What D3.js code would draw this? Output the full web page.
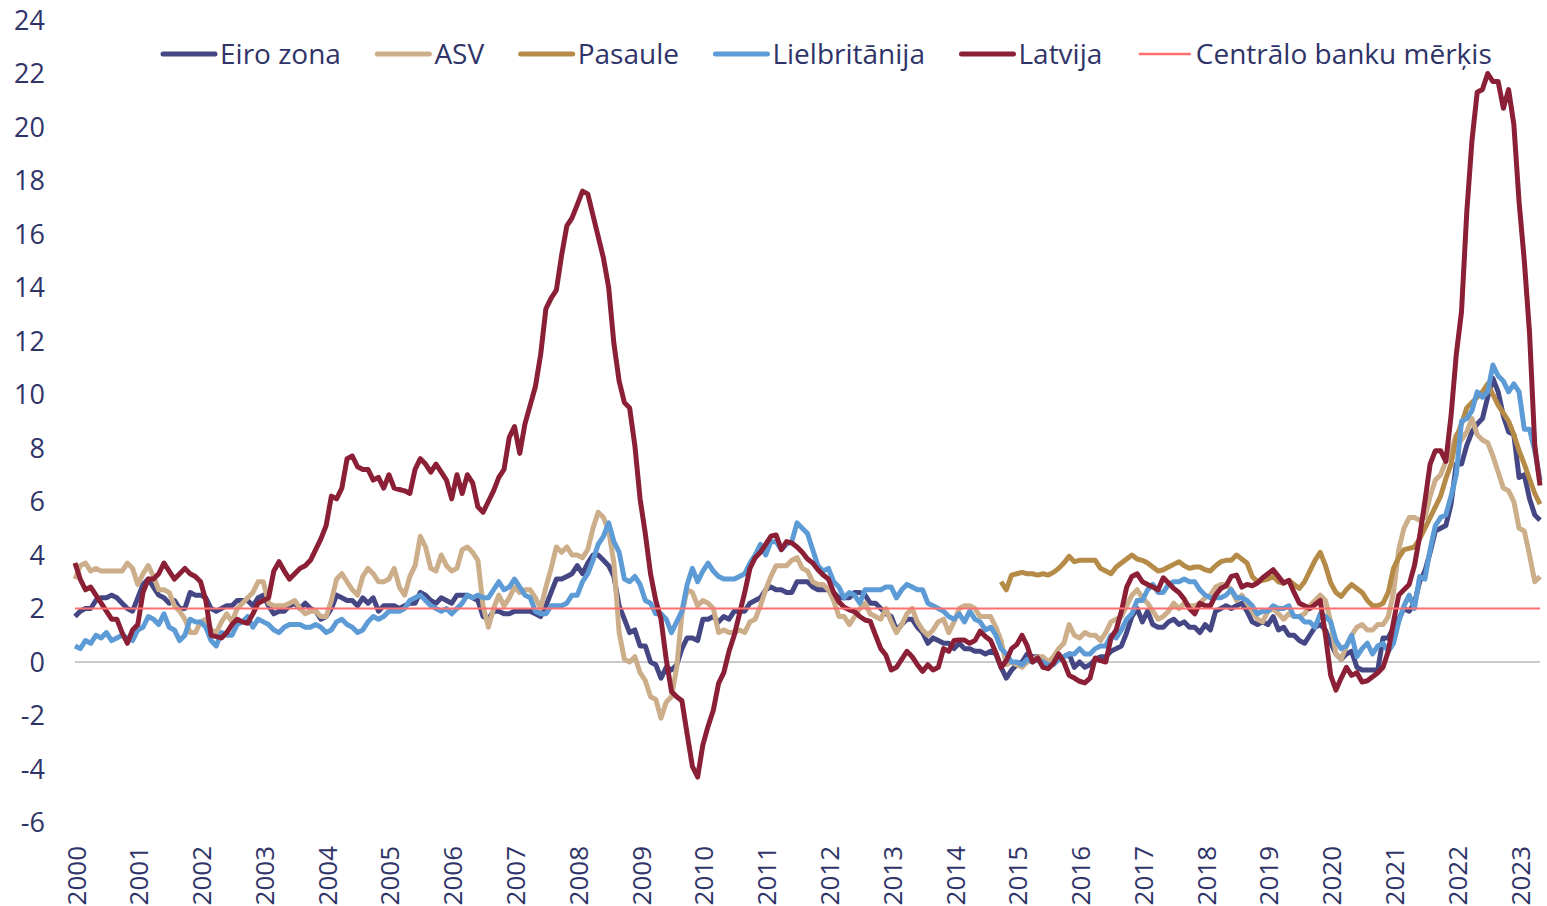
<!DOCTYPE html>
<html lang="lv">
<head>
<meta charset="utf-8">
<script src="https://cdn.jsdelivr.net/npm/d3@7"></script>
<style>
  html, body { margin: 0; padding: 0; background: #fff; }
  svg { display: block; font-family: "Open Sans", sans-serif; }
  .ylab, .xlab, .legend text { fill: #2f3468; }
  .ylab { font-size: 27px; }
  .xlab { font-size: 26px; }
  .legend text { font-size: 28px; }
</style>
</head>
<body>
<div id="chart"></div>
<script>
"use strict"

// monthly observations, March 2000 .. July 2023 (annual inflation, %)
const months = d3.timeMonth.range(new Date(2000, 2, 1), new Date(2023, 7, 1)).map(d3.timeFormat("%Y-%m"));
const yearLabels = d3.range(2000, 2024);
const yTicks = d3.range(-6, 25, 2);
const targetValue = 2;

const euroArea = [
  1.7, 1.9, 2.0, 2.0, 2.3, 2.4, 2.4, 2.5, 2.4, 2.2,
  2.0, 1.9, 2.4, 2.9, 3.1, 2.8, 2.5, 2.4, 2.2, 2.3, 2.0, 2.0,
  2.6, 2.5, 2.5, 2.4, 2.0, 1.9, 2.0, 2.1, 2.1, 2.3, 2.3, 2.3,
  2.1, 2.4, 2.5, 2.1, 1.8, 1.9, 1.9, 2.1, 2.2, 2.0, 2.2, 2.0,
  1.9, 1.6, 1.7, 2.0, 2.5, 2.4, 2.3, 2.3, 2.1, 2.4, 2.2, 2.4,
  1.9, 2.1, 2.1, 2.1, 2.0, 2.1, 2.2, 2.2, 2.6, 2.5, 2.3, 2.2,
  2.4, 2.3, 2.2, 2.5, 2.5, 2.5, 2.4, 2.3, 1.7, 1.6, 1.9, 1.9,
  1.8, 1.8, 1.9, 1.9, 1.9, 1.9, 1.8, 1.7, 2.1, 2.6, 3.1, 3.1,
  3.2, 3.3, 3.6, 3.3, 3.7, 4.0, 4.0, 3.8, 3.6, 3.2, 2.1, 1.6,
  1.1, 1.2, 0.6, 0.6, 0.0, -0.1, -0.6, -0.2, -0.3, -0.1, 0.5, 0.9,
  0.9, 0.8, 1.6, 1.6, 1.7, 1.5, 1.7, 1.6, 1.9, 1.9, 1.9, 2.2,
  2.3, 2.4, 2.7, 2.8, 2.7, 2.7, 2.6, 2.6, 3.0, 3.0, 3.0, 2.8,
  2.7, 2.7, 2.7, 2.6, 2.4, 2.4, 2.4, 2.6, 2.6, 2.5, 2.2, 2.2,
  2.0, 1.8, 1.7, 1.2, 1.4, 1.6, 1.6, 1.3, 1.1, 0.7, 0.9, 0.8,
  0.7, 0.7, 0.5, 0.7, 0.5, 0.5, 0.4, 0.4, 0.3, 0.4, 0.3, -0.2,
  -0.6, -0.3, -0.1, 0.0, 0.3, 0.2, 0.2, 0.1, -0.1, 0.1, 0.1, 0.2,
  0.3, -0.2, 0.0, -0.2, -0.1, 0.1, 0.2, 0.2, 0.4, 0.5, 0.6, 1.1,
  1.7, 2.0, 1.5, 1.9, 1.4, 1.3, 1.3, 1.5, 1.6, 1.4, 1.5, 1.3,
  1.3, 1.1, 1.4, 1.2, 1.9, 2.0, 2.1, 2.0, 2.1, 2.2, 1.9, 1.5,
  1.4, 1.5, 1.4, 1.7, 1.2, 1.3, 1.0, 1.0, 0.8, 0.7, 1.0, 1.3,
  1.4, 1.2, 0.7, 0.3, 0.1, 0.3, 0.4, -0.2, -0.3, -0.3, -0.3, -0.3,
  0.9, 0.9, 1.3, 1.6, 2.0, 1.9, 2.2, 3.0, 3.4, 4.1, 4.9, 5.0,
  5.1, 5.9, 7.4, 7.4, 8.1, 8.6, 8.9, 9.1, 9.9, 10.6, 10.1, 9.2,
  8.6, 8.5, 6.9, 7.0, 6.1, 5.5, 5.3
];

const usa = [
  3.1, 3.6, 3.7, 3.4, 3.5, 3.4, 3.4, 3.4, 3.4, 3.4,
  3.7, 3.5, 2.9, 3.3, 3.6, 3.2, 2.7, 2.7, 2.6, 2.1, 1.9, 1.6,
  1.1, 1.1, 1.5, 1.6, 1.2, 1.1, 1.5, 1.8, 1.5, 2.0, 2.2, 2.4,
  2.6, 3.0, 3.0, 2.2, 2.1, 2.1, 2.1, 2.2, 2.3, 2.0, 1.8, 1.9,
  1.9, 1.7, 1.7, 2.3, 3.1, 3.3, 3.0, 2.7, 2.5, 3.2, 3.5, 3.3,
  3.0, 3.0, 3.1, 3.5, 2.8, 2.5, 3.2, 3.6, 4.7, 4.3, 3.5, 3.4,
  4.0, 3.6, 3.4, 3.5, 4.2, 4.3, 4.1, 3.8, 2.1, 1.3, 2.0, 2.5,
  2.1, 2.4, 2.8, 2.6, 2.7, 2.7, 2.4, 2.0, 2.8, 3.5, 4.3, 4.1,
  4.3, 4.0, 4.0, 3.9, 4.2, 5.0, 5.6, 5.4, 4.9, 3.7, 1.1, 0.1,
  0.0, 0.2, -0.4, -0.7, -1.3, -1.4, -2.1, -1.5, -1.3, -0.2, 1.8, 2.7,
  2.6, 2.1, 2.3, 2.2, 2.0, 1.1, 1.2, 1.1, 1.1, 1.2, 1.1, 1.5,
  1.6, 2.1, 2.7, 3.2, 3.6, 3.6, 3.6, 3.8, 3.9, 3.5, 3.4, 3.0,
  2.9, 2.9, 2.7, 2.3, 1.7, 1.7, 1.4, 1.7, 2.0, 2.2, 1.8, 1.7,
  1.6, 2.0, 1.5, 1.1, 1.4, 1.8, 2.0, 1.5, 1.2, 1.0, 1.2, 1.5,
  1.6, 1.1, 1.5, 2.0, 2.1, 2.1, 2.0, 1.7, 1.7, 1.7, 1.3, 0.8,
  -0.1, 0.0, -0.1, -0.2, 0.0, 0.1, 0.2, 0.2, 0.0, 0.2, 0.5, 0.7,
  1.4, 1.0, 0.9, 1.1, 1.0, 1.0, 0.8, 1.1, 1.5, 1.6, 1.7, 2.1,
  2.5, 2.7, 2.4, 2.2, 1.9, 1.6, 1.7, 1.9, 2.2, 2.0, 2.2, 2.1,
  2.1, 2.2, 2.4, 2.5, 2.8, 2.9, 2.9, 2.7, 2.3, 2.5, 2.2, 1.9,
  1.6, 1.5, 1.9, 2.0, 1.8, 1.6, 1.8, 1.7, 1.7, 1.8, 2.1, 2.3,
  2.5, 2.3, 1.5, 0.3, 0.1, 0.6, 1.0, 1.3, 1.4, 1.2, 1.2, 1.4,
  1.4, 1.7, 2.6, 4.2, 5.0, 5.4, 5.4, 5.3, 5.4, 6.2, 6.8, 7.0,
  7.5, 7.9, 8.5, 8.3, 8.6, 9.1, 8.5, 8.3, 8.2, 7.7, 7.1, 6.5,
  6.4, 6.0, 5.0, 4.9, 4.0, 3.0, 3.2
];

// world series starts in December 2014
const worldStart = "2014-12";
const world = [
  3.0, 2.7, 3.25, 3.3, 3.35, 3.3, 3.3, 3.25, 3.3, 3.25,
  3.35, 3.5, 3.7, 3.95, 3.75, 3.8, 3.8, 3.8, 3.8, 3.5,
  3.4, 3.3, 3.55, 3.7, 3.85, 4.0, 3.85, 3.8, 3.7, 3.55,
  3.4, 3.45, 3.55, 3.65, 3.75, 3.6, 3.5, 3.55, 3.55, 3.45,
  3.4, 3.6, 3.75, 3.8, 3.8, 4.0, 3.85, 3.7, 3.2, 3.0,
  3.05, 3.1, 3.2, 3.0, 2.95, 3.05, 2.9, 2.75, 3.0, 3.4,
  3.8, 4.1, 3.6, 2.95, 2.6, 2.45, 2.7, 2.9, 2.75, 2.6,
  2.3, 2.1, 2.1, 2.2, 2.6, 3.5, 3.9, 4.2, 4.25, 4.3,
  4.6, 5.0, 5.4, 5.8, 6.2, 6.85, 7.4, 8.4, 8.9, 9.5,
  9.7, 9.9, 10.1, 10.4, 10.0, 9.6, 9.3, 9.0, 8.5, 7.9,
  7.4, 6.85, 6.3, 5.9
];

const uk = [
  0.6, 0.5, 0.8, 0.7, 1.0, 0.9, 1.1, 0.8, 0.9, 1.0,
  0.9, 0.8, 1.2, 1.3, 1.7, 1.6, 1.4, 1.8, 1.3, 1.2, 0.8, 1.0,
  1.6, 1.5, 1.5, 1.3, 0.8, 0.6, 1.1, 1.0, 1.0, 1.4, 1.5, 1.7,
  1.3, 1.6, 1.5, 1.4, 1.2, 1.1, 1.3, 1.4, 1.4, 1.4, 1.3, 1.3,
  1.4, 1.3, 1.1, 1.2, 1.5, 1.6, 1.4, 1.3, 1.1, 1.2, 1.5, 1.7,
  1.6, 1.7, 1.9, 1.9, 1.9, 2.0, 2.3, 2.4, 2.5, 2.3, 2.1, 2.0,
  1.9, 2.0, 1.8, 2.0, 2.2, 2.5, 2.4, 2.5, 2.4, 2.4, 2.7, 3.0,
  2.7, 2.8, 3.1, 2.8, 2.5, 2.4, 1.9, 1.8, 1.8, 2.1, 2.1, 2.1,
  2.2, 2.5, 2.5, 3.0, 3.3, 3.8, 4.4, 4.7, 5.2, 4.5, 4.1, 3.1,
  3.0, 3.2, 2.9, 2.3, 2.2, 1.8, 1.8, 1.6, 1.1, 1.5, 1.9, 2.9,
  3.5, 3.0, 3.4, 3.7, 3.4, 3.2, 3.1, 3.1, 3.1, 3.2, 3.3, 3.7,
  4.0, 4.4, 4.0, 4.5, 4.5, 4.2, 4.4, 4.5, 5.2, 5.0, 4.8, 4.2,
  3.6, 3.4, 3.5, 3.0, 2.8, 2.4, 2.6, 2.5, 2.2, 2.7, 2.7, 2.7,
  2.7, 2.8, 2.8, 2.4, 2.7, 2.9, 2.8, 2.7, 2.7, 2.2, 2.1, 2.0,
  1.9, 1.7, 1.6, 1.8, 1.5, 1.9, 1.6, 1.5, 1.2, 1.3, 1.0, 0.5,
  0.3, 0.0, 0.0, -0.1, 0.1, 0.0, 0.1, 0.0, -0.1, -0.1, 0.1, 0.2,
  0.3, 0.3, 0.5, 0.3, 0.3, 0.5, 0.6, 0.6, 1.0, 0.9, 1.2, 1.6,
  1.8, 2.3, 2.3, 2.7, 2.9, 2.6, 2.6, 2.9, 3.0, 3.0, 3.1, 3.0,
  3.0, 2.7, 2.5, 2.4, 2.4, 2.4, 2.5, 2.7, 2.4, 2.4, 2.3, 2.1,
  1.8, 1.9, 1.9, 2.1, 2.0, 2.0, 2.1, 1.7, 1.7, 1.5, 1.5, 1.3,
  1.8, 1.7, 1.5, 0.8, 0.5, 0.6, 1.0, 0.2, 0.5, 0.7, 0.3, 0.6,
  0.7, 0.4, 0.7, 1.5, 2.1, 2.5, 2.0, 3.2, 3.1, 4.2, 5.1, 5.4,
  5.5, 6.2, 7.0, 9.0, 9.1, 9.4, 10.1, 9.9, 10.1, 11.1, 10.7, 10.5,
  10.1, 10.4, 10.1, 8.7, 8.7, 7.9, 6.8
];

const latvia = [
  3.7, 3.1, 2.7, 2.8, 2.5, 2.2, 1.9, 1.6, 1.6, 1.1,
  0.7, 1.2, 1.4, 2.6, 3.1, 3.1, 3.3, 3.7, 3.4, 3.1,
  3.3, 3.5, 3.3, 3.2, 3.0, 2.3, 1.0, 0.95, 0.9, 1.1,
  1.4, 1.6, 1.5, 1.45, 1.8, 2.2, 2.3, 2.4, 3.4, 3.75,
  3.4, 3.1, 3.3, 3.5, 3.6, 3.8, 4.2, 4.6, 5.1, 6.2,
  6.1, 6.5, 7.6, 7.7, 7.3, 7.2, 7.2, 6.8, 6.9, 6.5,
  7.0, 6.5, 6.45, 6.4, 6.3, 7.2, 7.6, 7.4, 7.1, 7.4,
  7.1, 6.8, 6.1, 7.0, 6.3, 7.0, 6.7, 5.8, 5.6, 6.0,
  6.4, 6.9, 7.2, 8.4, 8.8, 7.8, 8.9, 9.6, 10.3, 11.5,
  13.2, 13.6, 13.9, 15.2, 16.3, 16.6, 17.1, 17.6, 17.5, 16.7,
  15.9, 15.1, 14.0, 11.9, 10.5, 9.7, 9.5, 8.1, 6.1, 4.8,
  3.3, 2.3, 1.6, 0.1, -1.1, -1.3, -1.45, -2.7, -3.9, -4.3,
  -3.1, -2.4, -1.8, -0.8, -0.4, 0.4, 1.0, 1.8, 2.6, 3.5,
  3.9, 4.1, 4.4, 4.7, 4.75, 4.2, 4.5, 4.45, 4.3, 4.1,
  3.85, 3.7, 3.45, 3.25, 3.1, 2.6, 2.25, 2.05, 1.95, 1.88,
  1.7, 1.57, 1.52, 1.0, 0.5, 0.25, -0.3, -0.2, 0.1, 0.4,
  0.2, -0.1, -0.35, -0.1, -0.3, -0.2, 0.5, 0.4, 0.8, 0.82,
  0.82, 0.7, 0.8, 1.15, 0.95, 0.8, 0.35, -0.2, 0.05, 0.5,
  0.65, 1.0, 0.6, 0.0, 0.15, -0.2, -0.25, -0.05, 0.3, 0.0,
  -0.5, -0.6, -0.72, -0.78, -0.6, 0.15, 0.05, 0.0, 0.9, 1.2,
  1.9, 2.8, 3.2, 3.3, 3.0, 2.9, 2.8, 2.7, 3.15, 2.95,
  2.75, 2.6, 2.35, 2.0, 1.8, 2.2, 2.1, 2.1, 2.5, 2.75,
  2.85, 3.2, 3.25, 2.8, 2.9, 2.85, 2.95, 3.15, 3.3, 3.45,
  3.2, 2.95, 3.05, 2.6, 2.2, 2.1, 2.0, 2.15, 2.3, 1.0,
  -0.5, -1.05, -0.6, -0.2, -0.5, -0.4, -0.75, -0.7, -0.55, -0.4,
  -0.2, 0.4, 1.5, 2.5, 2.7, 2.9, 3.6, 4.7, 6.0, 7.4,
  7.9, 7.9, 7.5, 9.2, 11.5, 13.1, 16.8, 19.5, 21.3, 21.4,
  22.0, 21.7, 21.7, 20.7, 21.4, 20.1, 17.2, 15.0, 12.3, 8.1, 6.6
];

const seriesNames = ["Eiro zona", "ASV", "Pasaule", "Lielbritānija", "Latvija"];
const seriesColors = ["#444784", "#cdae8a", "#b68a47", "#5c9bd6", "#8a1f35"];
const targetName = "Centrālo banku mērķis";
const targetColor = "#ff6f6f";

function toPoints(values, startMonth) {
    const offset = months.indexOf(startMonth);
    return values.map((v, k) => ({m: months[offset + k], v: v}));
}

const series = [
    toPoints(euroArea, months[0]),
    toPoints(usa, months[0]),
    toPoints(world, worldStart),
    toPoints(uk, months[0]),
    toPoints(latvia, months[0])
];

function drawChart() {
    const figWidth = 1547;
    const figHeight = 906;
    const plot = {left: 75, right: 1540, top: 20, bottom: 822.5};

    const svg = d3.select("#chart").append("svg")
        .attr("width", figWidth)
        .attr("height", figHeight);

    const xScale = d3.scalePoint()
        .domain(months)
        .range([plot.left, plot.right]);
    const yScale = d3.scaleLinear()
        .domain([-6, 24])
        .range([plot.bottom, plot.top]);

    // y tick labels (no axis line, no gridlines)
    svg.append("g").selectAll("text")
        .data(yTicks)
        .enter().append("text")
            .attr("class", "ylab")
            .attr("x", 45)
            .attr("y", d => yScale(d))
            .attr("dy", "0.36em")
            .attr("text-anchor", "end")
            .text(d => d);

    // year labels, one every 12 months, rotated
    svg.append("g").selectAll("text")
        .data(yearLabels)
        .enter().append("text")
            .attr("class", "xlab")
            .attr("text-anchor", "end")
            .attr("transform", (d, k) => `translate(${xScale(months[k * 12]) + 10.5}, 846) rotate(-90)`)
            .text(d => d);

    // zero line
    svg.append("line")
        .attr("x1", xScale(months[0]))
        .attr("x2", xScale(months[months.length - 1]))
        .attr("y1", yScale(0))
        .attr("y2", yScale(0))
        .attr("stroke", "#cbcbcb")
        .attr("stroke-width", 2);

    const line = d3.line()
        .x(d => xScale(d.m))
        .y(d => yScale(d.v));

    svg.append("g").selectAll("path")
        .data(series)
        .enter().append("path")
            .attr("d", line)
            .attr("fill", "none")
            .attr("stroke", (d, k) => seriesColors[k])
            .attr("stroke-width", 5)
            .attr("stroke-linejoin", "round");

    // central bank target
    svg.append("line")
        .attr("x1", xScale(months[0]))
        .attr("x2", xScale(months[months.length - 1]))
        .attr("y1", yScale(targetValue))
        .attr("y2", yScale(targetValue))
        .attr("stroke", targetColor)
        .attr("stroke-width", 2.2);

    // legend, laid out left to right
    const legend = svg.append("g").attr("class", "legend");
    const items = seriesNames.map((n, k) => ({name: n, color: seriesColors[k], w: 5}))
        .concat([{name: targetName, color: targetColor, w: 2.5}]);
    let lx = 163;
    const ly = 54;
    items.forEach(item => {
        legend.append("line")
            .attr("x1", lx).attr("x2", lx + 52)
            .attr("y1", ly).attr("y2", ly)
            .attr("stroke", item.color)
            .attr("stroke-width", item.w)
            .attr("stroke-linecap", item.w > 3 ? "round" : "butt");
        const t = legend.append("text")
            .attr("x", lx + 57)
            .attr("y", ly)
            .attr("dy", "0.36em")
            .text(item.name);
        lx = lx + 57 + t.node().getComputedTextLength() + 36.5;
    });
}

drawChart();
</script>
</body>
</html>
